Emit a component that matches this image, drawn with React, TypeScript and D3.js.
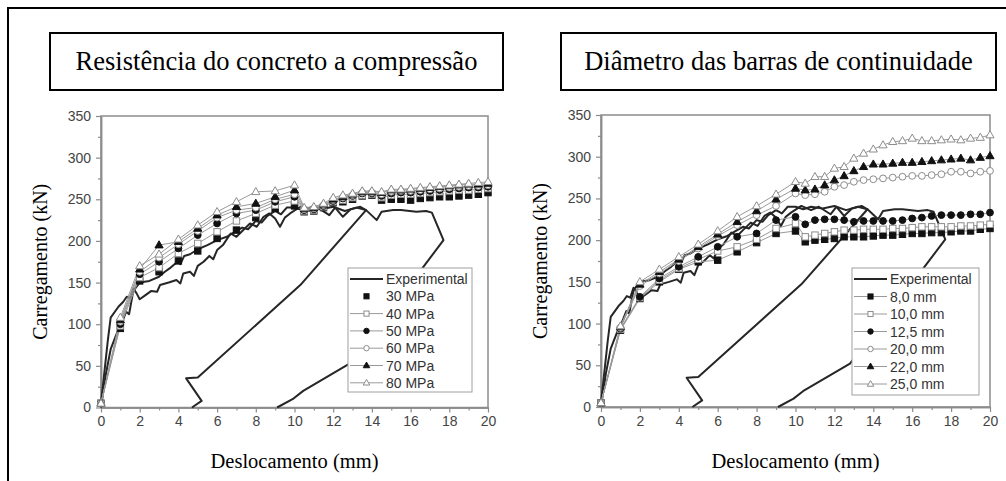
import React, { useEffect, useRef } from 'react';
import * as d3 from 'd3';

const W = 1006;
const H = 481;

// tick labels
const xTicks = [0, 2, 4, 6, 8, 10, 12, 14, 16, 18, 20];
const xMinor = [1, 3, 5, 7, 9, 11, 13, 15, 17, 19];
const yTicks = [0, 50, 100, 150, 200, 250, 300, 350];
const yMinor = [25, 75, 125, 175, 225, 275, 325];

// displacement of the simulated points (mm)
const xSim = [0, 1, 2, 3, 4, 5, 6, 7, 8, 9, 10, 10.5, 11, 11.5, 12, 12.5, 13, 13.5, 14, 14.5, 15, 15.5, 16, 16.5, 17, 17.5, 18, 18.5, 19, 19.5, 20];

// left panel: concrete strength
const mpa30 = [5, 95, 152, 163, 176, 188, 203, 213, 228, 239, 242, 235, 236, 240, 246, 247, 250, 254, 255, 249, 250, 250, 249, 251, 252, 253, 253, 254, 255, 256, 258];
const mpa40 = [5, 98, 156, 168, 185, 197, 211, 224, 233, 243, 248, 236, 237, 241, 247, 249, 252, 255, 256, 252, 255, 256, 256, 257, 258, 259, 260, 261, 261, 262, 263];
const mpa50 = [5, 100, 160, 175, 191, 207, 221, 233, 237, 247, 253, 237, 238, 242, 248, 251, 254, 257, 257, 254, 257, 258, 258, 259, 260, 261, 262, 263, 264, 264, 265];
const mpa60 = [5, 103, 163, 180, 196, 212, 228, 237, 240, 250, 256, 238, 239, 243, 249, 252, 255, 258, 258, 256, 259, 260, 260, 261, 262, 263, 264, 265, 266, 266, 267];
const mpa70 = [5, 105, 166, 195, 199, 215, 231, 241, 245, 253, 261, 239, 240, 244, 250, 253, 256, 259, 259, 258, 261, 261, 262, 263, 264, 265, 266, 267, 268, 268, 269];
const mpa80 = [5, 108, 170, 184, 202, 219, 235, 247, 259, 260, 267, 240, 241, 245, 252, 255, 257, 260, 260, 259, 262, 262, 263, 264, 265, 266, 267, 268, 269, 270, 271];

// right panel: bar diameter
const d80 = [5, 92, 130, 150, 165, 174, 176, 186, 197, 208, 211, 198, 200, 201, 202, 204, 204, 204, 205, 206, 206, 207, 208, 208, 209, 209, 210, 211, 211, 213, 214];
const d100 = [5, 93, 131, 152, 166, 177, 187, 192, 201, 214, 220, 204, 206, 208, 210, 212, 212, 213, 213, 213, 214, 214, 215, 216, 216, 216, 216, 217, 217, 218, 219];
const d125 = [5, 94, 132, 154, 168, 180, 192, 204, 208, 224, 228, 219, 224, 225, 225, 224, 222, 223, 223, 223, 223, 224, 226, 227, 229, 230, 230, 230, 231, 231, 233];
const d200 = [5, 95, 145, 160, 175, 190, 205, 218, 230, 241, 256, 254, 255, 258, 264, 266, 270, 272, 273, 274, 275, 276, 277, 277, 278, 279, 282, 282, 280, 282, 283];
const d220 = [5, 96, 147, 162, 177, 192, 207, 222, 235, 249, 262, 260, 261, 266, 272, 277, 283, 288, 291, 291, 292, 293, 293, 294, 295, 296, 297, 298, 296, 299, 301];
const d250 = [5, 97, 150, 165, 180, 195, 211, 228, 241, 255, 270, 268, 276, 276, 286, 288, 298, 304, 309, 314, 318, 319, 322, 319, 319, 320, 321, 320, 322, 323, 326];

// experimental curve (two traces), [mm, kN]
const expFirst: [number, number][] = [
  [0, 5], [0.35, 80], [0.5, 108], [0.9, 121], [1.15, 127], [1.33, 133], [1.5, 131], [1.67, 143], [1.84, 137],
  [2.0, 130], [2.3, 135], [2.6, 140], [2.9, 139], [3.05, 147], [3.5, 150], [3.9, 153], [4.1, 149], [4.25, 161],
  [4.6, 163], [4.8, 158], [5.0, 170], [5.3, 175], [5.6, 182], [5.8, 178], [6.0, 189], [6.3, 195], [6.7, 209],
  [7.0, 205], [7.3, 212], [7.7, 221], [8.05, 217], [8.4, 229], [8.7, 233], [9.0, 227], [9.25, 217], [9.5, 228],
  [9.77, 233], [10.3, 241], [10.8, 236], [11.2, 240], [11.8, 231], [12.1, 240], [12.5, 229], [12.9, 238],
  [13.4, 241], [13.7, 237], [10.3, 147], [5.0, 36], [4.4, 35], [5.2, 8], [4.7, 0],
];
const expSecond: [number, number][] = [
  [0, 0], [0.25, 40], [0.5, 70], [0.8, 88], [1.0, 97], [1.3, 115], [1.45, 112], [1.67, 140], [2.0, 150],
  [2.5, 152], [3.0, 157], [3.3, 163], [3.6, 168], [4.0, 176], [4.1, 172], [4.3, 182], [4.6, 184], [5.0, 190],
  [5.5, 195], [6.0, 201], [6.5, 205], [7.0, 212], [7.3, 216], [7.6, 214], [8.0, 224], [8.3, 222], [8.6, 230],
  [9.0, 236], [9.3, 232], [9.6, 240], [10.0, 240], [10.4, 237], [10.8, 240], [11.4, 238], [12.0, 241],
  [12.6, 236], [13.2, 240], [13.7, 237], [14.25, 225], [14.5, 235], [15.1, 237], [15.5, 237], [16.3, 235],
  [16.8, 236], [17.1, 234], [17.7, 201], [16.6, 167], [12.8, 52], [10.45, 20], [9.9, 10], [9.1, 0],
];

type Marker = 'sqF' | 'sqO' | 'ciF' | 'ciO' | 'trF' | 'trO';

const leftSeries = [
  { name: '30 MPa', values: mpa30, marker: 'sqF' as Marker, line: false },
  { name: '40 MPa', values: mpa40, marker: 'sqO' as Marker, line: true },
  { name: '50 MPa', values: mpa50, marker: 'ciF' as Marker, line: true },
  { name: '60 MPa', values: mpa60, marker: 'ciO' as Marker, line: true },
  { name: '70 MPa', values: mpa70, marker: 'trF' as Marker, line: true },
  { name: '80 MPa', values: mpa80, marker: 'trO' as Marker, line: true },
];
const rightSeries = [
  { name: '8,0 mm', values: d80, marker: 'sqF' as Marker, line: true },
  { name: '10,0 mm', values: d100, marker: 'sqO' as Marker, line: true },
  { name: '12,5 mm', values: d125, marker: 'ciF' as Marker, line: true },
  { name: '20,0 mm', values: d200, marker: 'ciO' as Marker, line: true },
  { name: '22,0 mm', values: d220, marker: 'trF' as Marker, line: true },
  { name: '25,0 mm', values: d250, marker: 'trO' as Marker, line: true },
];

const SANS = "'Liberation Sans', Arial, sans-serif";
const SERIF = "'Liberation Serif', 'Times New Roman', serif";
const GRAY = '#8c8c8c';

function drawMarker(g: any, m: Marker, cx: number, cy: number, s = 1) {
  const filled = m.endsWith('F');
  const fill = filled ? '#111' : '#fff';
  const stroke = filled ? '#111' : GRAY;
  if (m.startsWith('sq')) {
    const a = 3.2 * s;
    g.append('rect').attr('x', cx - a).attr('y', cy - a).attr('width', 2 * a).attr('height', 2 * a)
      .attr('fill', fill).attr('stroke', stroke).attr('stroke-width', 1);
  } else if (m.startsWith('ci')) {
    g.append('circle').attr('cx', cx).attr('cy', cy).attr('r', 3.4 * s)
      .attr('fill', fill).attr('stroke', stroke).attr('stroke-width', 1);
  } else {
    const r = 4.3 * s;
    g.append('path')
      .attr('d', `M${cx},${cy - r}L${cx + r * 0.95},${cy + r * 0.65}L${cx - r * 0.95},${cy + r * 0.65}Z`)
      .attr('fill', fill).attr('stroke', stroke).attr('stroke-width', 1);
  }
}

function drawPanel(svg: any, cfg: any) {
  const { title, box, plot, series, legend } = cfg;

  // title box
  svg.append('rect').attr('x', box[0]).attr('y', box[1]).attr('width', box[2] - box[0]).attr('height', box[3] - box[1])
    .attr('fill', '#fff').attr('stroke', '#000').attr('stroke-width', 2);
  svg.append('text').attr('x', (box[0] + box[2]) / 2).attr('y', box[1] + 37)
    .attr('text-anchor', 'middle').attr('font-family', SERIF).attr('font-size', 26.5).attr('fill', '#000')
    .text(title);

  const x = d3.scaleLinear().domain([0, 20]).range([plot.left, plot.right]);
  const y = d3.scaleLinear().domain([0, 350]).range([plot.bottom, plot.top]);

  const g = svg.append('g');

  // frame
  g.append('rect').attr('x', plot.left).attr('y', plot.top).attr('width', plot.right - plot.left)
    .attr('height', plot.bottom - plot.top).attr('fill', 'none').attr('stroke', GRAY).attr('stroke-width', 1.5);

  const styleAxis = (sel: any) => {
    sel.attr('font-family', SANS);
    sel.select('.domain').attr('stroke', GRAY).attr('stroke-width', 1.5);
    sel.selectAll('line').attr('stroke', GRAY).attr('stroke-width', 1.2);
    sel.selectAll('text').attr('font-family', SANS).attr('font-size', 14).attr('fill', '#444');
  };

  g.append('g').attr('transform', `translate(0,${plot.bottom})`)
    .call(d3.axisBottom(x).tickValues(xTicks).tickSize(5).tickSizeOuter(0).tickPadding(4).tickFormat(d3.format('d')))
    .call(styleAxis);
  g.append('g').attr('transform', `translate(0,${plot.bottom})`)
    .call(d3.axisBottom(x).tickValues(xMinor).tickSize(3).tickSizeOuter(0).tickFormat(() => ''))
    .call(styleAxis);
  g.append('g').attr('transform', `translate(${plot.left},0)`)
    .call(d3.axisLeft(y).tickValues(yTicks).tickSize(5).tickSizeOuter(0).tickPadding(5).tickFormat(d3.format('d')))
    .call(styleAxis);
  g.append('g').attr('transform', `translate(${plot.left},0)`)
    .call(d3.axisLeft(y).tickValues(yMinor).tickSize(3).tickSizeOuter(0).tickFormat(() => ''))
    .call(styleAxis);

  // axis titles
  g.append('text').attr('x', (plot.left + plot.right) / 2).attr('y', 468)
    .attr('text-anchor', 'middle').attr('font-family', SERIF).attr('font-size', 20.5).attr('fill', '#000')
    .text('Deslocamento (mm)');
  g.append('text').attr('transform', `translate(${plot.left - 54},${(plot.top + plot.bottom) / 2}) rotate(-90)`)
    .attr('text-anchor', 'middle').attr('font-family', SERIF).attr('font-size', 20).attr('fill', '#000')
    .text('Carregamento (kN)');

  // experimental
  const expLine = d3.line<[number, number]>().x(d => x(d[0])).y(d => y(d[1]));
  [expFirst, expSecond].forEach(tr => {
    g.append('path').attr('d', expLine(tr)).attr('fill', 'none').attr('stroke', '#262626')
      .attr('stroke-width', 2).attr('stroke-linejoin', 'round');
  });

  // simulations
  const simLine = d3.line<number>().x((_, i) => x(xSim[i])).y(d => y(d));
  series.forEach((s: any) => {
    if (s.line) {
      g.append('path').attr('d', simLine(s.values)).attr('fill', 'none').attr('stroke', '#9a9a9a').attr('stroke-width', 1);
    }
  });
  series.forEach((s: any) => {
    const mg = g.append('g');
    s.values.forEach((v: number, i: number) => drawMarker(mg, s.marker, x(xSim[i]), y(v)));
  });

  // legend
  const lg = svg.append('g');
  lg.append('rect').attr('x', legend.x0).attr('y', legend.y0).attr('width', legend.x1 - legend.x0)
    .attr('height', legend.y1 - legend.y0).attr('fill', '#fff').attr('stroke', '#a0a0a0').attr('stroke-width', 1);
  const rowY = (i: number) => legend.y0 + 11 + i * legend.step;
  const sx0 = legend.x0 + 2;
  const sx1 = legend.x0 + 35;
  const sxm = (sx0 + sx1) / 2;
  lg.append('line').attr('x1', sx0).attr('x2', sx1).attr('y1', rowY(0)).attr('y2', rowY(0))
    .attr('stroke', '#262626').attr('stroke-width', 2);
  lg.append('text').attr('x', legend.x0 + 38).attr('y', rowY(0) + 5).attr('font-family', SANS)
    .attr('font-size', 14).attr('fill', '#333').text('Experimental');
  series.forEach((s: any, i: number) => {
    const yy = rowY(i + 1);
    if (s.line) {
      lg.append('line').attr('x1', sx0).attr('x2', sx1).attr('y1', yy).attr('y2', yy)
        .attr('stroke', '#9a9a9a').attr('stroke-width', 1);
    }
    drawMarker(lg, s.marker, sxm, yy, 0.8);
    lg.append('text').attr('x', legend.x0 + 38).attr('y', yy + 5).attr('font-family', SANS)
      .attr('font-size', 14).attr('fill', '#333').text(s.name);
  });
}

const App = () => {
  const ref = useRef<SVGSVGElement>(null);

  useEffect(() => {
    const svg = d3.select(ref.current);
    svg.selectAll('*').remove();

    svg.append('rect').attr('width', W).attr('height', H).attr('fill', '#fff');
    // outer frame
    svg.append('rect').attr('x', 8).attr('y', 8).attr('width', 1010).attr('height', 490)
      .attr('fill', 'none').attr('stroke', '#000').attr('stroke-width', 2);

    drawPanel(svg, {
      title: 'Resistência do concreto a compressão',
      box: [50, 33, 503, 90],
      plot: { left: 101, right: 488, top: 116, bottom: 407.5 },
      series: leftSeries,
      legend: { x0: 348, x1: 472, y0: 268, y1: 392, step: 17.3 },
    });
    drawPanel(svg, {
      title: 'Diâmetro das barras de continuidade',
      box: [561, 33, 996, 90],
      plot: { left: 601, right: 990, top: 115, bottom: 407 },
      series: rightSeries,
      legend: { x0: 852, x1: 979, y0: 268, y1: 395, step: 17.5 },
    });
  }, []);

  return (
    <svg ref={ref} width={W} height={H} style={{ position: 'absolute', left: 0, top: 0 }} />
  );
};

export default App;
